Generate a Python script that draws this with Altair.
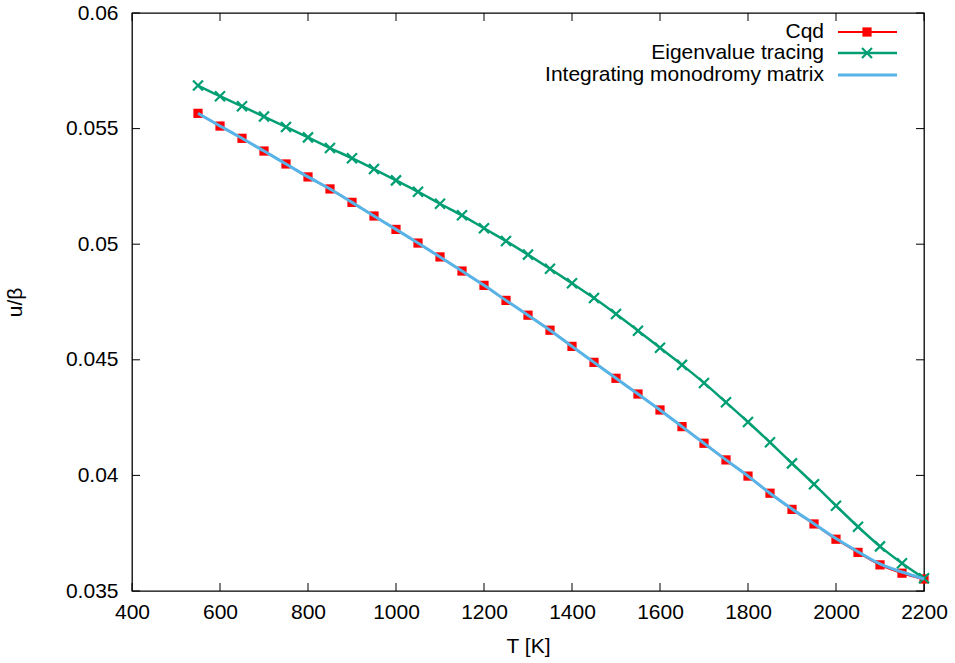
import altair as alt
import pandas as pd

# ---- data ----
temps = [550, 600, 650, 700, 750, 800, 850, 900, 950, 1000, 1050, 1100, 1150,
         1200, 1250, 1300, 1350, 1400, 1450, 1500, 1550, 1600, 1650, 1700,
         1750, 1800, 1850, 1900, 1950, 2000, 2050, 2100, 2150, 2200]
cqd = [0.05566, 0.05511, 0.05458, 0.05403, 0.05347, 0.05291, 0.05239, 0.05181,
       0.05122, 0.05064, 0.05005, 0.04945, 0.04884, 0.04822, 0.04757, 0.04693,
       0.04628, 0.04558, 0.04489, 0.04420, 0.04352, 0.04283, 0.04211, 0.04139,
       0.04067, 0.03997, 0.03923, 0.03853, 0.03790, 0.03724, 0.03667, 0.03613,
       0.03577, 0.03552]
eigen = [0.05686, 0.05640, 0.05597, 0.05552, 0.05507, 0.05462, 0.05416, 0.05372,
         0.05325, 0.05276, 0.05227, 0.05175, 0.05125, 0.05069, 0.05014, 0.04955,
         0.04894, 0.04831, 0.04767, 0.04698, 0.04626, 0.04552, 0.04478, 0.04400,
         0.04316, 0.04231, 0.04143, 0.04052, 0.03962, 0.03869, 0.03778, 0.03693,
         0.03620, 0.03555]
mono = [0.05566, 0.05511, 0.05458, 0.05403, 0.05347, 0.05291, 0.05239, 0.05181,
        0.05122, 0.05064, 0.05005, 0.04945, 0.04884, 0.04822, 0.04757, 0.04693,
        0.04628, 0.04558, 0.04489, 0.04420, 0.04352, 0.04283, 0.04211, 0.04139,
        0.04067, 0.03997, 0.03923, 0.03855, 0.03791, 0.03727, 0.03670, 0.03617,
        0.03582, 0.03552]

series_names = ["Cqd", "Eigenvalue tracing", "Integrating monodromy matrix"]
series_colors = ["#ff0000", "#009e73", "#56b4e9"]
x_ticks = [400, 600, 800, 1000, 1200, 1400, 1600, 1800, 2000, 2200]
y_ticks = [0.035, 0.04, 0.045, 0.05, 0.055, 0.06]

W, H = 792, 578
FONT = "Liberation Sans"
FS = 21

df_cqd = pd.DataFrame({"T": temps, "v": cqd})
df_eig = pd.DataFrame({"T": temps, "v": eigen})
df_mono = pd.DataFrame({"T": temps, "v": mono})
df_xt = pd.DataFrame({"T": x_ticks})
df_yt = pd.DataFrame({"v": y_ticks})

xscale = alt.Scale(domain=[400, 2200], nice=False, zero=False)
yscale = alt.Scale(domain=[0.035, 0.06], nice=False, zero=False)

X = alt.X("T:Q", scale=xscale,
          axis=alt.Axis(values=x_ticks, format="d", title="T [K]", ticks=False,
                        domain=False, grid=False, labelPadding=10,
                        labelFontSize=FS, labelFont=FONT, labelColor="black",
                        titleFontSize=FS, titleFont=FONT, titleFontWeight="normal",
                        titleColor="black", titleX=W / 2, titleY=55,
                        titleBaseline="middle", titleAlign="center",
                        labelFlush=False, labelOverlap=False))
Y = alt.Y("v:Q", scale=yscale,
          axis=alt.Axis(values=y_ticks, format="~g", title="u/β", ticks=False,
                        domain=False, grid=False, labelPadding=14,
                        labelFontSize=FS, labelFont=FONT, labelColor="black",
                        titleFontSize=FS, titleFont=FONT, titleFontWeight="normal",
                        titleColor="black", titleAngle=270, titleX=-117,
                        titleY=H / 2, titleBaseline="middle", titleAlign="center",
                        labelFlush=False, labelOverlap=False))

layers = []

# inward ticks on all four sides
layers.append(alt.Chart(df_xt).mark_rule(color="black", strokeWidth=1).encode(
    x=X, y=alt.value(H), y2=alt.value(H - 8)))
layers.append(alt.Chart(df_xt).mark_rule(color="black", strokeWidth=1).encode(
    x=X, y=alt.value(0), y2=alt.value(8)))
layers.append(alt.Chart(df_yt).mark_rule(color="black", strokeWidth=1).encode(
    y=Y, x=alt.value(0), x2=alt.value(8)))
layers.append(alt.Chart(df_yt).mark_rule(color="black", strokeWidth=1).encode(
    y=Y, x=alt.value(W), x2=alt.value(W - 8)))

# Cqd
layers.append(alt.Chart(df_cqd).mark_line(color=series_colors[0], strokeWidth=2,
                                          interpolate="monotone").encode(x=X, y=Y))
layers.append(alt.Chart(df_cqd).mark_point(shape="square", filled=True, size=85,
                                           color=series_colors[0], opacity=1).encode(x=X, y=Y))
# Eigenvalue tracing
xpath = "M-1,-1L1,1M-1,1L1,-1"
layers.append(alt.Chart(df_eig).mark_line(color=series_colors[1], strokeWidth=2.5,
                                          interpolate="monotone").encode(x=X, y=Y))
layers.append(alt.Chart(df_eig).mark_point(shape=xpath, filled=False, size=100,
                                           strokeWidth=2.2, color=series_colors[1],
                                           opacity=1).encode(x=X, y=Y))
# Integrating monodromy matrix
layers.append(alt.Chart(df_mono).mark_line(color=series_colors[2], strokeWidth=3,
                                           interpolate="monotone").encode(x=X, y=Y))

# legend (gnuplot style: text right-aligned, sample to the right)
row_y = [19, 40, 62]
text_right = 692
line_x0, line_x1, marker_x = 706, 765, 735
line_widths = [2, 2.5, 3]
for i, name in enumerate(series_names):
    ldf = pd.DataFrame({"label": [name]})
    layers.append(alt.Chart(ldf).mark_text(align="right", baseline="middle",
                                           font=FONT, fontSize=FS, color="black").encode(
        text="label:N", x=alt.value(text_right), y=alt.value(row_y[i])))
    layers.append(alt.Chart(ldf).mark_rule(color=series_colors[i],
                                           strokeWidth=line_widths[i]).encode(
        x=alt.value(line_x0), x2=alt.value(line_x1), y=alt.value(row_y[i])))
    if i == 0:
        layers.append(alt.Chart(ldf).mark_point(shape="square", filled=True, size=85,
                                                color=series_colors[0], opacity=1).encode(
            x=alt.value(marker_x), y=alt.value(row_y[i])))
    elif i == 1:
        layers.append(alt.Chart(ldf).mark_point(shape=xpath, filled=False, size=100,
                                                strokeWidth=2.2, color=series_colors[1],
                                                opacity=1).encode(
            x=alt.value(marker_x), y=alt.value(row_y[i])))

chart = alt.layer(*layers).properties(
    width=W, height=H,
    padding={"left": 132, "top": 13, "right": 31, "bottom": 72},
    autosize=alt.AutoSizeParams(type="none"),
    background="white",
).configure_view(stroke="black", strokeWidth=1.3)

chart.save("out.html", embed_options={"renderer": "svg", "actions": False})
